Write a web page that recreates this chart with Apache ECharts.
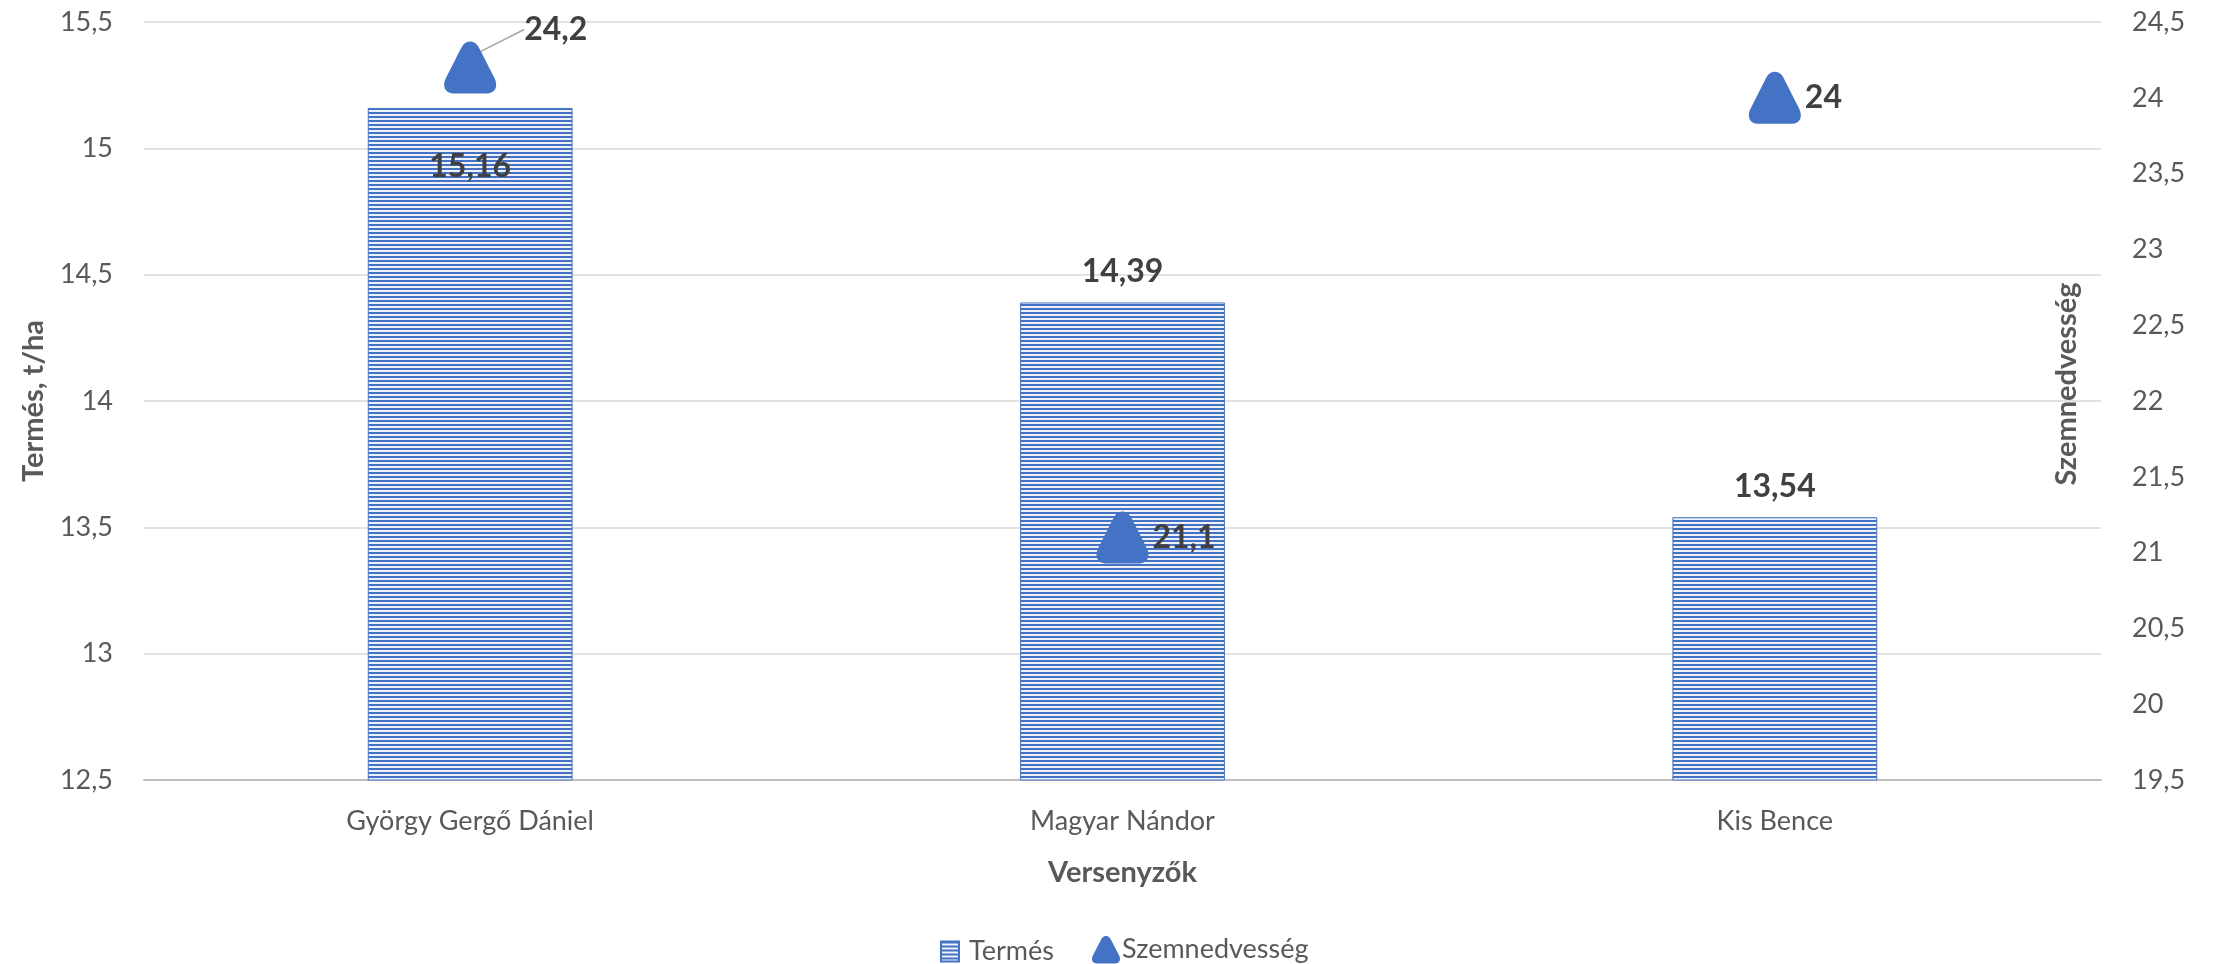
<!DOCTYPE html>
<html>
<head>
<meta charset="utf-8">
<script src="https://cdn.jsdelivr.net/npm/echarts@6/dist/echarts.min.js"></script>
<style>
html,body{margin:0;padding:0;background:#fff;}
#chart{width:2216px;height:964px;}
</style>
</head>
<body>
<div id="chart"></div>
<script>
const categories = ['György Gergő Dániel', 'Magyar Nándor', 'Kis Bence'];
const termes = [15.16, 14.39, 13.54];
const szemnedvesseg = [24.2, 21.1, 24];
const leftTicks = { min: 12.5, max: 15.5, interval: 0.5 };
const rightTicks = { min: 19.5, max: 24.5, interval: 0.5 };

const FONT = 'Lato';
const BLUE = '#4472C4';
const fmt = v => String(v).replace('.', ',');

// striped pattern for bars
const pc = document.createElement('canvas');
pc.width = 4; pc.height = 4;
const pctx = pc.getContext('2d');
pctx.fillStyle = '#eef1f7'; pctx.fillRect(0, 0, 4, 4);
pctx.fillStyle = BLUE; pctx.fillRect(0, 0, 4, 2);
const stripe = { image: pc, repeat: 'repeat' };

const TRI = 'path://M50,2 C60,2 64,9 68,16 L96,70 C103,84 98,98 82,98 L18,98 C2,98 -3,84 4,70 L32,16 C36,9 40,2 50,2 Z';

const chart = echarts.init(document.getElementById('chart'), null, { renderer: 'canvas' });
chart.setOption({
  animation: false,
  backgroundColor: '#fff',
  textStyle: { fontFamily: FONT },
  grid: { left: 144, right: 115, top: 22, bottom: 184, containLabel: false, outerBoundsMode: 'none' },
  legend: [
    {
      data: [{ name: 'Termés', icon: 'rect' }], left: 935, top: 933, itemWidth: 18, itemHeight: 20,
      textStyle: { fontFamily: FONT, fontSize: 27, color: '#595959', padding: [0, 0, 0, 5] }
    },
    {
      data: [{ name: 'Szemnedvesség', icon: TRI }], left: 1087, top: 931, itemWidth: 28, itemHeight: 28,
      textStyle: { fontFamily: FONT, fontSize: 27, color: '#595959', padding: [0, 0, 0, -3] }
    }
  ],
  xAxis: {
    type: 'category', data: categories,
    axisLine: { lineStyle: { color: '#bfbfbf', width: 2 } },
    axisTick: { show: false },
    axisLabel: { fontFamily: FONT, fontSize: 27, color: '#595959', margin: 28 },
    name: 'Versenyzők', nameLocation: 'middle', nameGap: 78, nameMoveOverlap: false,
    nameTextStyle: { fontFamily: FONT, fontSize: 29, fontWeight: 'bold', color: '#595959' }
  },
  yAxis: [
    {
      type: 'value', min: leftTicks.min, max: leftTicks.max, interval: leftTicks.interval,
      axisLine: { show: false }, axisTick: { show: false },
      splitLine: { lineStyle: { color: '#d9d9d9', width: 1.5 } },
      axisLabel: { fontFamily: FONT, fontSize: 27, color: '#595959', margin: 31, formatter: fmt },
      name: 'Termés, t/ha', nameLocation: 'middle', nameGap: 96, nameRotate: 90, nameMoveOverlap: false,
      nameTextStyle: { fontFamily: FONT, fontSize: 29, fontWeight: 'bold', color: '#595959' }
    },
    {
      type: 'value', min: rightTicks.min, max: rightTicks.max, interval: rightTicks.interval,
      position: 'right',
      axisLine: { show: false }, axisTick: { show: false }, splitLine: { show: false },
      axisLabel: { fontFamily: FONT, fontSize: 27, color: '#595959', margin: 31, formatter: fmt },
      name: 'Szemnedvesség', nameLocation: 'middle', nameGap: -49, nameRotate: 90, nameMoveOverlap: false,
      nameTextStyle: { fontFamily: FONT, fontSize: 29, fontWeight: 'bold', color: '#595959', padding: [0, 0, 0, 34] }
    }
  ],
  series: [
    {
      name: 'Termés', type: 'bar', yAxisIndex: 0, barWidth: '31.4%',
      itemStyle: { color: stripe, borderColor: BLUE, borderWidth: 1 },
      label: {
        show: true, position: 'top', distance: 15,
        fontFamily: FONT, fontSize: 32, fontWeight: 'bold', color: '#404040',
        formatter: p => fmt(p.value)
      },
      data: termes.map((v, i) => i === 0
        ? { value: v, label: { position: 'insideTop', distance: 43 } }
        : v)
    },
    {
      name: 'Szemnedvesség', type: 'scatter', yAxisIndex: 1, z: 5,
      symbol: TRI, symbolSize: [52, 52],
      itemStyle: { color: BLUE, opacity: 1 },
      label: {
        show: true, position: 'right', distance: 4,
        fontFamily: FONT, fontSize: 32, fontWeight: 'bold', color: '#404040',
        formatter: p => fmt(p.value)
      },
      labelLayout: p => p.dataIndex === 0 ? { dx: 24, dy: -38 } : {},
      data: szemnedvesseg.map((v, i) => i === 0
        ? { value: v, labelLine: { show: true, lineStyle: { color: '#a6a6a6', width: 1.5 } } }
        : v)
    }
  ]
});
</script>
</body>
</html>
